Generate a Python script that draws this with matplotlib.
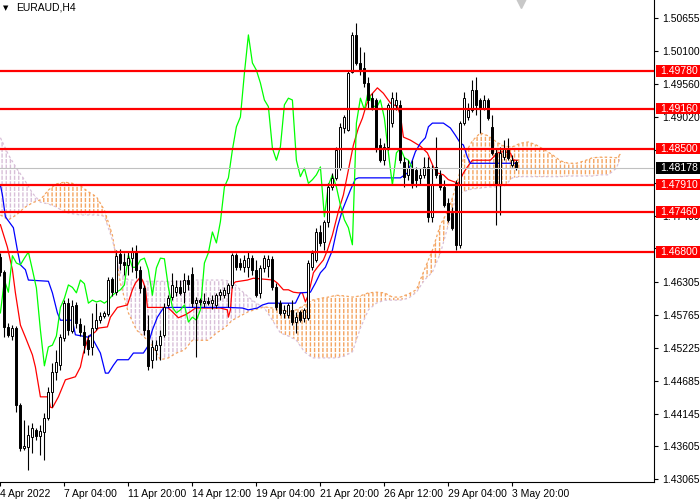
import numpy as np
import matplotlib
matplotlib.use('Agg')
import matplotlib.pyplot as plt
from matplotlib.patches import Rectangle

plt.rcParams['font.family'] = ['Liberation Sans', 'DejaVu Sans']
plt.rcParams['font.size'] = 7.5
plt.rcParams['hatch.linewidth'] = 1.0

# EURAUD H4 candles (bar 0 = 4 Apr 2022 12:00)
opens = [1.4672, 1.4647, 1.4557, 1.4542, 1.4555, 1.4429, 1.4358, 1.4360, 1.4376, 1.4388,
         1.4378, 1.4384, 1.4407, 1.4450, 1.4483, 1.4494, 1.4539, 1.4596, 1.4550, 1.4593,
         1.4562, 1.4549, 1.4535, 1.4524, 1.4555, 1.4568, 1.4575, 1.4578, 1.4636, 1.4614,
         1.4677, 1.4664, 1.4659, 1.4670, 1.4682, 1.4651, 1.4621, 1.4552, 1.4503, 1.4519,
         1.4527, 1.4544, 1.4593, 1.4606, 1.4614, 1.4622, 1.4614, 1.4634, 1.4644, 1.4596,
         1.4601, 1.4596, 1.4600, 1.4596, 1.4593, 1.4609, 1.4609, 1.4613, 1.4626, 1.4675,
         1.4662, 1.4655, 1.4655, 1.4670, 1.4651, 1.4613, 1.4654, 1.4657, 1.4669, 1.4622,
         1.4596, 1.4580, 1.4577, 1.4585, 1.4565, 1.4582, 1.4572, 1.4572, 1.4655, 1.4667,
         1.4713, 1.4697, 1.4730, 1.4787, 1.4802, 1.4818, 1.4884, 1.4881, 1.4976, 1.5037,
         1.4991, 1.4983, 1.4958, 1.4933, 1.4930, 1.4856, 1.4831, 1.4853, 1.4892, 1.4922,
         1.4922, 1.4828, 1.4807, 1.4818, 1.4815, 1.4802, 1.4807, 1.4820, 1.4738, 1.4820,
         1.4807, 1.4787, 1.4761, 1.4744, 1.4793, 1.4692, 1.4892, 1.4902, 1.4914, 1.4946,
         1.4930, 1.4917, 1.4930, 1.4886, 1.4843, 1.4790, 1.4836, 1.4851, 1.4823, 1.4828]
highs = [1.4679, 1.4651, 1.4563, 1.4560, 1.4558, 1.4432, 1.4404, 1.4396, 1.4399, 1.4391,
         1.4396, 1.4416, 1.4458, 1.4498, 1.4519, 1.4545, 1.4601, 1.4604, 1.4601, 1.4598,
         1.4572, 1.4560, 1.4544, 1.4580, 1.4596, 1.4582, 1.4583, 1.4639, 1.4639, 1.4683,
         1.4685, 1.4679, 1.4680, 1.4688, 1.4692, 1.4657, 1.4626, 1.4577, 1.4535, 1.4535,
         1.4552, 1.4596, 1.4609, 1.4646, 1.4634, 1.4634, 1.4646, 1.4642, 1.4655, 1.4606,
         1.4604, 1.4613, 1.4606, 1.4609, 1.4613, 1.4619, 1.4622, 1.4629, 1.4679, 1.4679,
         1.4670, 1.4675, 1.4680, 1.4675, 1.4667, 1.4659, 1.4675, 1.4675, 1.4674, 1.4629,
         1.4601, 1.4593, 1.4596, 1.4601, 1.4582, 1.4585, 1.4588, 1.4667, 1.4683, 1.4720,
         1.4725, 1.4733, 1.4794, 1.4810, 1.4853, 1.4892, 1.4905, 1.4979, 1.5042, 1.5057,
         1.5017, 1.5009, 1.4968, 1.4941, 1.4933, 1.4868, 1.4859, 1.4925, 1.4943, 1.4943,
         1.4930, 1.4836, 1.4831, 1.4831, 1.4820, 1.4818, 1.4836, 1.4836, 1.4823, 1.4869,
         1.4815, 1.4799, 1.4769, 1.4754, 1.4799, 1.4895, 1.4943, 1.4925, 1.4963, 1.4968,
         1.4933, 1.4938, 1.4933, 1.4905, 1.4851, 1.4853, 1.4864, 1.4868, 1.4840, 1.4831]
lows = [1.4641, 1.4540, 1.4540, 1.4535, 1.4417, 1.4353, 1.4355, 1.4322, 1.4350, 1.4371,
        1.4346, 1.4338, 1.4404, 1.4425, 1.4470, 1.4486, 1.4534, 1.4544, 1.4547, 1.4555,
        1.4542, 1.4514, 1.4511, 1.4511, 1.4552, 1.4563, 1.4572, 1.4575, 1.4608, 1.4610,
        1.4651, 1.4642, 1.4642, 1.4647, 1.4637, 1.4613, 1.4544, 1.4486, 1.4490, 1.4503,
        1.4503, 1.4540, 1.4589, 1.4601, 1.4608, 1.4610, 1.4596, 1.4618, 1.4589, 1.4508,
        1.4593, 1.4589, 1.4593, 1.4586, 1.4588, 1.4601, 1.4604, 1.4589, 1.4621, 1.4651,
        1.4651, 1.4647, 1.4639, 1.4642, 1.4606, 1.4604, 1.4647, 1.4639, 1.4618, 1.4585,
        1.4577, 1.4572, 1.4572, 1.4560, 1.4547, 1.4565, 1.4565, 1.4568, 1.4651, 1.4664,
        1.4690, 1.4683, 1.4721, 1.4782, 1.4799, 1.4815, 1.4876, 1.4879, 1.4974, 1.4988,
        1.4971, 1.4951, 1.4917, 1.4914, 1.4845, 1.4828, 1.4823, 1.4848, 1.4886, 1.4914,
        1.4826, 1.4787, 1.4799, 1.4785, 1.4787, 1.4790, 1.4802, 1.4730, 1.4730, 1.4802,
        1.4782, 1.4754, 1.4730, 1.4716, 1.4683, 1.4687, 1.4889, 1.4897, 1.4910, 1.4905,
        1.4876, 1.4914, 1.4897, 1.4840, 1.4725, 1.4741, 1.4831, 1.4831, 1.4820, 1.4815]
closes = [1.4647, 1.4557, 1.4544, 1.4555, 1.4429, 1.4358, 1.4361, 1.4379, 1.4391, 1.4378,
          1.4386, 1.4407, 1.4450, 1.4483, 1.4499, 1.4540, 1.4596, 1.4552, 1.4591, 1.4563,
          1.4549, 1.4527, 1.4521, 1.4555, 1.4568, 1.4575, 1.4580, 1.4634, 1.4614, 1.4674,
          1.4662, 1.4659, 1.4670, 1.4680, 1.4651, 1.4621, 1.4552, 1.4493, 1.4524, 1.4527,
          1.4542, 1.4589, 1.4604, 1.4626, 1.4622, 1.4613, 1.4634, 1.4628, 1.4596, 1.4601,
          1.4598, 1.4600, 1.4596, 1.4601, 1.4609, 1.4614, 1.4618, 1.4626, 1.4675, 1.4655,
          1.4655, 1.4667, 1.4670, 1.4651, 1.4609, 1.4654, 1.4670, 1.4669, 1.4622, 1.4589,
          1.4580, 1.4585, 1.4593, 1.4565, 1.4573, 1.4568, 1.4585, 1.4662, 1.4679, 1.4713,
          1.4695, 1.4730, 1.4787, 1.4802, 1.4848, 1.4886, 1.4902, 1.4974, 1.5037, 1.4991,
          1.4979, 1.4958, 1.4930, 1.4919, 1.4851, 1.4831, 1.4853, 1.4922, 1.4933, 1.4930,
          1.4831, 1.4804, 1.4818, 1.4793, 1.4799, 1.4807, 1.4820, 1.4738, 1.4790, 1.4807,
          1.4787, 1.4757, 1.4733, 1.4720, 1.4692, 1.4892, 1.4933, 1.4914, 1.4946, 1.4922,
          1.4917, 1.4930, 1.4900, 1.4843, 1.4790, 1.4843, 1.4851, 1.4835, 1.4831, 1.4818]

# Tenkan-sen (red) vertices: bar position, price
tenkan_x = [0, 1.75, 3, 3.75, 5, 6.25, 8, 8.75, 10, 12, 12.5, 13, 14.5, 15.5, 16.25, 18.75,
            20, 20.75, 22, 23.75, 24.5, 26.75, 27.5, 29.25, 31.75, 33, 33.75, 35, 35.5, 36.25,
            36.75, 41.75, 42.5, 44.5, 46.25, 47.5, 48.75, 55, 56.75, 57, 57.5, 58, 58.75, 61.75,
            63.25, 68.25, 69.25, 70.75, 72, 73.25, 74.5, 75.5, 76.25, 77, 78.25, 79.25, 80.75,
            81.75, 83, 84.5, 85.75, 87, 88.25, 89.5, 90.5, 91.5, 92.5, 94.25, 95.75, 97.5, 99.25,
            100, 100.75, 102.5, 105, 106.75, 108.25, 109.25, 110.75, 112, 114.5, 115.75, 116.75,
            118, 122.5, 124.25, 125.75, 127.5, 128.25, 129.25]
tenkan_y = [1.4725, 1.4688, 1.4651, 1.4613, 1.4560, 1.4540, 1.4511, 1.4491, 1.4442, 1.4442,
            1.4425, 1.4424, 1.4442, 1.4458, 1.4470, 1.4475, 1.4491, 1.4514, 1.4540, 1.4549,
            1.4555, 1.4557, 1.4573, 1.4589, 1.4593, 1.4618, 1.4629, 1.4639, 1.4634, 1.4621,
            1.4589, 1.4589, 1.4585, 1.4572, 1.4577, 1.4582, 1.4588, 1.4588, 1.4585, 1.4573,
            1.4585, 1.4626, 1.4631, 1.4634, 1.4637, 1.4634, 1.4629, 1.4618, 1.4618, 1.4614,
            1.4613, 1.4613, 1.4598, 1.4610, 1.4646, 1.4655, 1.4667, 1.4683, 1.4708, 1.4747,
            1.4774, 1.4815, 1.4856, 1.4884, 1.4900, 1.4922, 1.4937, 1.4950, 1.4941, 1.4925,
            1.4919, 1.4905, 1.4869, 1.4864, 1.4854, 1.4843, 1.4820, 1.4810, 1.4807, 1.4799,
            1.4793, 1.4810, 1.4820, 1.4831, 1.4831, 1.4843, 1.4845, 1.4843, 1.4831, 1.4831]

# Kijun-sen (blue) vertices
kijun_x = [0, 0.5, 1.25, 3.25, 4.25, 5, 6.25, 7, 12, 13, 14.25, 15, 18, 18.75, 22, 22.5, 23.25,
           25, 26.25, 27, 28.25, 29.25, 32, 33.25, 35.75, 36.75, 38, 39.25, 40.75, 42.5, 56.75,
           60.5, 62, 64.25, 65.5, 67, 73.75, 75, 77.5, 78.75, 80, 81.25, 83, 84.25, 85.5, 87.5,
           88.75, 89.5, 100, 101.75, 103, 103.75, 105, 106.25, 107, 108, 110.75, 112.5, 113.75,
           115, 115.75, 116.75, 117.5, 129.25]
kijun_y = [1.4790, 1.4774, 1.4738, 1.4720, 1.4683, 1.4659, 1.4651, 1.4634, 1.4632, 1.4613,
           1.4580, 1.4568, 1.4568, 1.4544, 1.4540, 1.4544, 1.4535, 1.4514, 1.4481, 1.4481,
           1.4494, 1.4503, 1.4503, 1.4514, 1.4514, 1.4524, 1.4552, 1.4573, 1.4588, 1.4589,
           1.4589, 1.4588, 1.4585, 1.4588, 1.4593, 1.4596, 1.4596, 1.4613, 1.4614, 1.4629,
           1.4646, 1.4655, 1.4683, 1.4721, 1.4749, 1.4782, 1.4800, 1.4802, 1.4802, 1.4810,
           1.4831, 1.4845, 1.4859, 1.4868, 1.4886, 1.4892, 1.4892, 1.4884, 1.4872, 1.4859,
           1.4856, 1.4836, 1.4826, 1.4826]

# Kumo: Senkou span A (sandy brown) and B (thistle), every 2 bars
cloud_x = [0, 2, 4, 6, 8, 10, 12, 14, 16, 18, 20, 22, 24, 26, 28, 30, 32, 34, 36, 38, 40, 42,
           44, 46, 48, 50, 52, 54, 56, 58, 60, 62, 64, 66, 68, 70, 72, 74, 76, 78, 80, 82, 84,
           86, 88, 90, 92, 94, 96, 98, 100, 102, 104, 106, 108, 110, 112, 114, 116, 118, 120,
           122, 124, 126, 128, 130, 132, 134, 136, 138, 140, 142, 144, 146, 148, 150, 152, 154,
           155]
span_a = [1.4741, 1.4733, 1.4741, 1.4753, 1.4761, 1.4766, 1.4782, 1.4792, 1.4795, 1.4793,
          1.4789, 1.4779, 1.4771, 1.4749, 1.4708, 1.4629, 1.4580, 1.4552, 1.4540, 1.4526,
          1.4503, 1.4506, 1.4514, 1.4519, 1.4535, 1.4535, 1.4535, 1.4547, 1.4555, 1.4568,
          1.4575, 1.4582, 1.4586, 1.4590, 1.4588, 1.4585, 1.4582, 1.4585, 1.4593, 1.4601,
          1.4604, 1.4606, 1.4609, 1.4608, 1.4606, 1.4608, 1.4613, 1.4614, 1.4613, 1.4606,
          1.4606, 1.4611, 1.4618, 1.4651, 1.4683, 1.4725, 1.4749, 1.4790, 1.4840, 1.4863,
          1.4876, 1.4871, 1.4861, 1.4854, 1.4853, 1.4859, 1.4861, 1.4856, 1.4848, 1.4840,
          1.4830, 1.4826, 1.4826, 1.4830, 1.4835, 1.4836, 1.4836, 1.4835, 1.4841]
span_b = [1.4868, 1.4840, 1.4818, 1.4799, 1.4777, 1.4762, 1.4759, 1.4754, 1.4746, 1.4743,
          1.4741, 1.4741, 1.4741, 1.4739, 1.4700, 1.4646, 1.4634, 1.4634, 1.4632, 1.4632,
          1.4632, 1.4632, 1.4632, 1.4632, 1.4634, 1.4634, 1.4634, 1.4634, 1.4634, 1.4631,
          1.4618, 1.4606, 1.4596, 1.4588, 1.4568, 1.4547, 1.4542, 1.4535, 1.4516, 1.4506,
          1.4506, 1.4506, 1.4506, 1.4509, 1.4516, 1.4555, 1.4585, 1.4596, 1.4601, 1.4601,
          1.4601, 1.4604, 1.4614, 1.4634, 1.4647, 1.4678, 1.4725, 1.4774, 1.4780, 1.4784,
          1.4785, 1.4787, 1.4787, 1.4789, 1.4802, 1.4804, 1.4804, 1.4804, 1.4804, 1.4804,
          1.4804, 1.4805, 1.4805, 1.4805, 1.4805, 1.4807, 1.4807, 1.4818, 1.4835]

levels = [1.4978, 1.4916, 1.4850, 1.4791, 1.4746, 1.4680]
last_price = 1.48178

price_ticks = [1.50655, 1.50100, 1.49560, 1.49020, 1.48480, 1.47940, 1.47400, 1.46860,
               1.46305, 1.45765, 1.45225, 1.44685, 1.44145, 1.43605, 1.43065]
# ticks whose labels sit fully behind a level box on the reference
hidden_ticks = [1.48480, 1.47940, 1.46860]
time_tick_bars = [0, 16, 32, 48, 64, 80, 96, 112, 128]
time_tick_labels = ["4 Apr 2022", "7 Apr 04:00", "11 Apr 20:00", "14 Apr 12:00", "19 Apr 04:00",
                    "21 Apr 20:00", "26 Apr 12:00", "29 Apr 04:00", "3 May 20:00"]

SANDY = '#F4A460'
THISTLE = '#D8BFD8'


def draw_cloud(ax):
    x = np.array(cloud_x, dtype=float)
    a = np.array(span_a)
    b = np.array(span_b)
    ax.fill_between(x, a, b, where=a >= b, interpolate=True, facecolor='none',
                    edgecolor=SANDY, hatch='||||', linewidth=0, zorder=1)
    ax.fill_between(x, a, b, where=a < b, interpolate=True, facecolor='none',
                    edgecolor=THISTLE, hatch='||||', linewidth=0, zorder=1)
    # white horizontal hatch breaks the vertical lines into dashes (MT4 look)
    ax.fill_between(x, a, b, facecolor='none', edgecolor='white', hatch='---',
                    linewidth=0, zorder=1.2)
    ax.plot(x, a, color=SANDY, lw=0.9, ls=(0, (2, 2)), zorder=1.5)
    ax.plot(x, b, color=THISTLE, lw=0.9, ls=(0, (2, 2)), zorder=1.5)


def draw_candles(ax):
    o = np.array(opens)
    h = np.array(highs)
    l = np.array(lows)
    c = np.array(closes)
    x = np.arange(len(o))
    ax.vlines(x, l, h, color='black', lw=0.8, zorder=4)
    bull = c >= o
    body = np.maximum(np.abs(c - o), 0.00004)
    bottom = np.minimum(o, c)
    ax.bar(x[bull], body[bull], bottom=bottom[bull], width=0.5, facecolor='white',
           edgecolor='black', linewidth=0.7, zorder=5)
    ax.bar(x[~bull], body[~bull], bottom=bottom[~bull], width=0.5, facecolor='black',
           edgecolor='black', linewidth=0.7, zorder=5)


def draw_lines(ax):
    ax.plot(tenkan_x, tenkan_y, color='red', lw=0.9, zorder=3)
    ax.plot(kijun_x, kijun_y, color='blue', lw=0.9, zorder=3)
    # Chikou span = close shifted 26 bars back
    n = len(closes)
    ax.plot(np.arange(n - 26), closes[26:], color='#00FF00', lw=0.9, zorder=3)


def price_box(ax, value, color):
    # MT4-style price tag on the right scale
    trans = ax.get_yaxis_transform()
    box_h = 0.0019
    ax.add_patch(Rectangle((1.003, value - box_h / 2), 0.08, box_h, transform=trans,
                           facecolor=color, edgecolor='none', clip_on=False, zorder=9))
    ax.text(1.009, value, f"{value:.5f}", transform=trans, ha='left', va='center',
            color='white', fontsize=7.5, clip_on=False, zorder=10)


def draw_levels(ax):
    ax.axhline(last_price, color='#C0C0C0', lw=0.8, zorder=6)
    for lvl in levels:
        ax.axhline(lvl, color='red', lw=1.6, zorder=7)
        price_box(ax, lvl, 'red')
    price_box(ax, last_price, 'black')


def main():
    fig = plt.figure(figsize=(7, 5), dpi=100)
    ax = fig.add_axes([0, 18 / 500, 654 / 700, 482 / 500])
    ax.set_facecolor('white')

    draw_cloud(ax)
    draw_lines(ax)
    draw_candles(ax)
    draw_levels(ax)

    ax.set_xlim(-0.1, 163.4)
    ax.set_ylim(1.43020, 1.50944)

    ax.yaxis.tick_right()
    ax.set_yticks(price_ticks)
    ax.set_yticklabels(["" if p in hidden_ticks else f"{p:.5f}" for p in price_ticks])
    ax.tick_params(axis='y', length=3, width=0.8, pad=3, labelsize=7.5, colors='black')
    ax.set_xticks(time_tick_bars)
    ax.set_xticklabels(time_tick_labels, ha='left')
    ax.tick_params(axis='x', length=3, width=0.8, pad=2, labelsize=7.5)

    for side in ['top', 'left']:
        ax.spines[side].set_visible(False)
    for side in ['right', 'bottom']:
        ax.spines[side].set_color('black')
        ax.spines[side].set_linewidth(0.8)

    # header
    fig.text(3 / 700, 1 - 8 / 500, '\u25BC', fontsize=5, va='center', ha='left',
             family='DejaVu Sans')
    fig.text(16 / 700, 1 - 8 / 500, 'EURAUD,H4', fontsize=7.5, va='center', ha='left')
    # chart shift marker
    ax.plot([0.797], [0.995], marker='v', color='#C8C8C8', markersize=8,
            transform=ax.transAxes, clip_on=False, zorder=9)

    fig.savefig('out.png', dpi=100)
    plt.close(fig)


if __name__ == "__main__":
    main()
